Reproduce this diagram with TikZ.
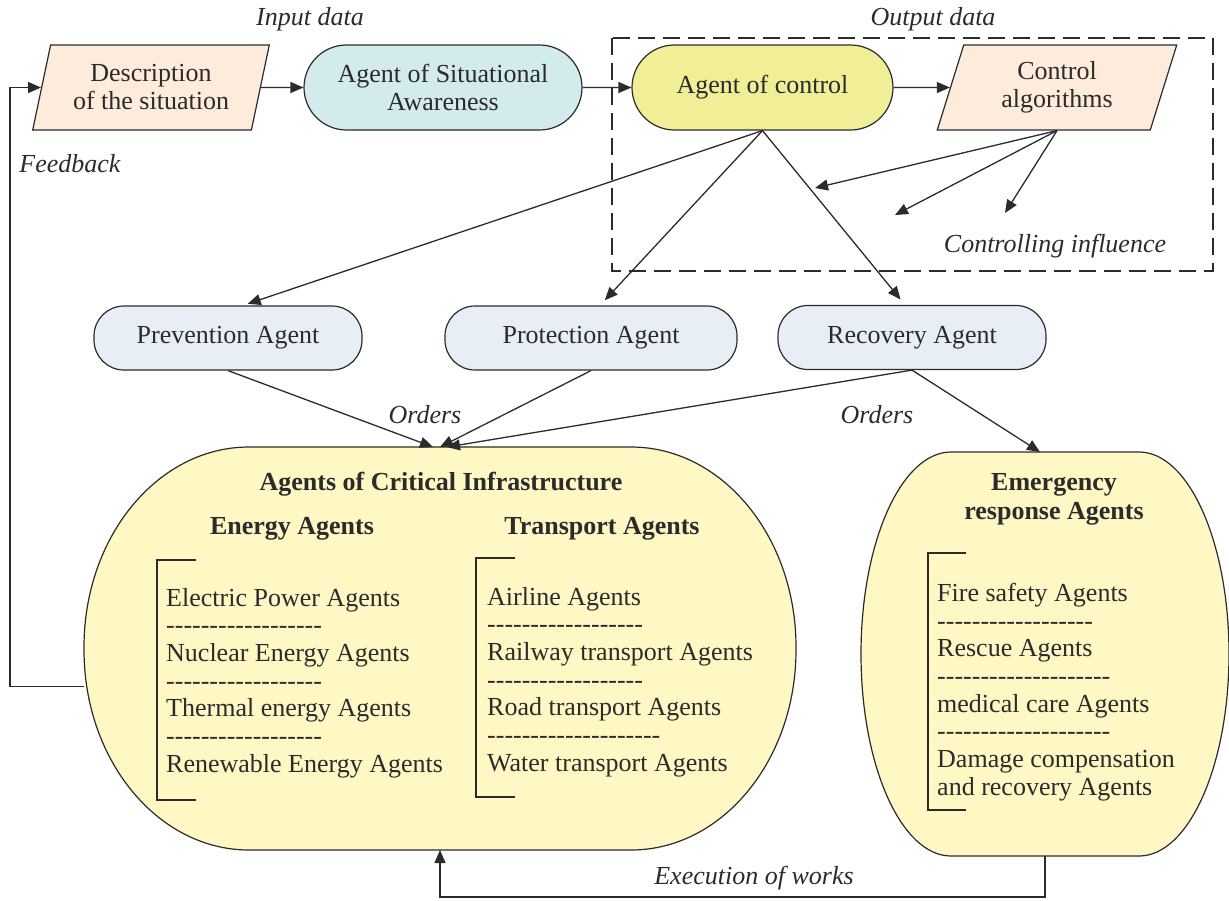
\documentclass[tikz,border=0pt]{standalone}
\usepackage{fontspec}
\setmainfont{Liberation Serif}[Ligatures=TeXOff]
\usetikzlibrary{arrows.meta,shapes.geometric,shapes.misc}

\definecolor{inkc}{HTML}{2B2B2B}
\definecolor{datafill}{HTML}{FDEBDB}
\definecolor{awarefill}{HTML}{D3EBEC}
\definecolor{ctrlfill}{HTML}{F1EE98}
\definecolor{subfill}{HTML}{E7EEF5}
\definecolor{cifill}{HTML}{FFF7C4}

\tikzset{
  txt/.style={font=\fontsize{26}{28}\selectfont, text=inkc, inner sep=0pt},
  lbl/.style={txt, font=\fontsize{26}{28}\selectfont\itshape},
  head/.style={txt, font=\fontsize{26}{29}\selectfont\bfseries, align=center},
  items/.style={txt, font=\fontsize{26}{27.7}\selectfont, align=left, anchor=west},
  databox/.style={txt, draw=inkc, line width=1.2pt, fill=datafill, align=center,
    trapezium, trapezium left angle=73, trapezium right angle=107,
    trapezium stretches=true, minimum width=237pt, minimum height=85pt},
  agentbox/.style={txt, draw=inkc, line width=1.2pt, align=center,
    rounded rectangle, minimum height=85pt},
  subagent/.style={txt, draw=inkc, line width=1.2pt, fill=subfill,
    rounded corners=30pt, minimum height=64pt},
  bigbox/.style={draw=inkc, line width=1.2pt, fill=cifill},
  arr/.style={draw=inkc, line width=1.3pt, -{Triangle[length=13pt,width=11pt]}},
  brack/.style={draw=inkc, line width=1.2pt},
}

\begin{document}
\begin{tikzpicture}[x=1pt, y=-1pt]
	\useasboundingbox (0,0) rectangle (1229,900);

	\begin{scope}
	\draw[inkc, line width=2.8pt, dash pattern=on 17pt off 8pt] (612,38) rectangle (1213,271);

	\node[lbl] (indata) at (310,19) {Input data};
	\node[lbl] (outdata) at (933,19) {Output data};
	\node[lbl] (feedback) at (70,164) {Feedback};
	\node[lbl] (influence) at (1055,246) {Controlling influence};

	\node[databox] (desc) at (151,87.5) {Description\\of the situation};
	\node[agentbox, fill=awarefill, minimum width=278pt] (aware) at (443,87.5) {Agent of Situational\\Awareness};
	\node[agentbox, fill=ctrlfill, minimum width=261pt] (ctrl) at (762.5,87.5) {Agent of control};
	\node[databox, minimum width=240pt] (alg) at (1057,87.5) {Control\\algorithms};

	\node[subagent, minimum width=268pt] (prev) at (228,338) {Prevention Agent};
	\node[subagent, minimum width=292pt] (prot) at (591,338) {Protection Agent};
	\node[subagent, minimum width=268pt] (rec) at (912,337.5) {Recovery Agent};

	\coordinate (inf1) at (815,188);
	\coordinate (inf2) at (895,215);
	\coordinate (inf3) at (1005,213);
	\end{scope}

	\begin{scope}
	\node[minimum width=712pt, minimum height=403pt, inner sep=0pt, outer sep=0pt] (ci) at (440,648.5) {};
	\draw[bigbox] ([xshift=165pt]ci.north west) -- ([xshift=-165pt]ci.north east)
		arc[start angle=90, end angle=0, x radius=165pt, y radius=200pt] -- ++(0,3)
		arc[start angle=0, end angle=-90, x radius=165pt, y radius=200pt] -- ([xshift=165pt]ci.south west)
		arc[start angle=270, end angle=180, x radius=165pt, y radius=200pt] -- ++(0,-3)
		arc[start angle=180, end angle=90, x radius=165pt, y radius=200pt] -- cycle;

	\node[minimum width=368pt, minimum height=404pt, inner sep=0pt, outer sep=0pt] (em) at (1045,654) {};
	\draw[bigbox] ([xshift=90pt]em.north west) -- ([xshift=-90pt]em.north east)
		arc[start angle=90, end angle=-90, x radius=90pt, y radius=202pt] -- ([xshift=90pt]em.south west)
		arc[start angle=270, end angle=90, x radius=90pt, y radius=202pt] -- cycle;

	\node[head] (cititle) at (441,484) {Agents of Critical Infrastructure};
	\node[head] (energy) at (292,529) {Energy Agents};
	\node[head] (transport) at (602,529) {Transport Agents};
	\node[head] (emtitle) at (1054,499) {Emergency\\response Agents};

	\draw[brack] (196,560) -- (157,560) -- (157,800) -- (196,800);
	\draw[brack] (515,558) -- (476,558) -- (476,797) -- (515,797);
	\draw[brack] (966,553) -- (928,553) -- (928,810) -- (966,810);

	\node[items] (energylist) at (166,683) {Electric Power Agents\\------------------\\Nuclear Energy Agents\\------------------\\Thermal energy Agents\\------------------\\Renewable Energy Agents};
	\node[items] (translist) at (487,682) {Airline Agents\\------------------\\Railway transport Agents\\------------------\\Road transport Agents\\--------------------\\Water transport Agents};
	\node[items] (emlist) at (937,692) {Fire safety Agents\\------------------\\Rescue Agents\\--------------------\\medical care Agents\\--------------------\\Damage compensation\\and recovery Agents};

	\node[lbl] (orders1) at (425,415) {Orders};
	\node[lbl] (orders2) at (877,415) {Orders};
	\node[lbl] (execution) at (754,878) {Execution of works};
	\end{scope}

	\draw[arr] ([yshift=-38pt]ci.west) -- ++(-74,0) |- (desc);
	\draw[arr] (desc) -- (aware);
	\draw[arr] (aware) -- (ctrl);
	\draw[arr] (ctrl) -- (alg);
	\draw[arr, shorten >=5pt] (ctrl.south) -- ([xshift=15pt]prev.north);
	\draw[arr, shorten >=7pt] (ctrl.south) -- ([xshift=9pt]prot.north);
	\draw[arr, shorten >=7pt] (ctrl.south) -- ([xshift=-7pt]rec.north);
	\draw[arr] (alg.south) -- (inf1);
	\draw[arr] (alg.south) -- (inf2);
	\draw[arr] (alg.south) -- (inf3);
	\draw[arr] (prev.south) -- ([xshift=-7pt]ci.north);
	\draw[arr] (prot.south) -- (ci.north);
	\draw[arr] (rec.south) -- ([xshift=7pt]ci.north);
	\draw[arr] (rec.south) -- ([xshift=-5pt]em.north);
	\draw[arr] (em.south) -- ++(0,41) -| (ci.south);
\end{tikzpicture}
\end{document}
